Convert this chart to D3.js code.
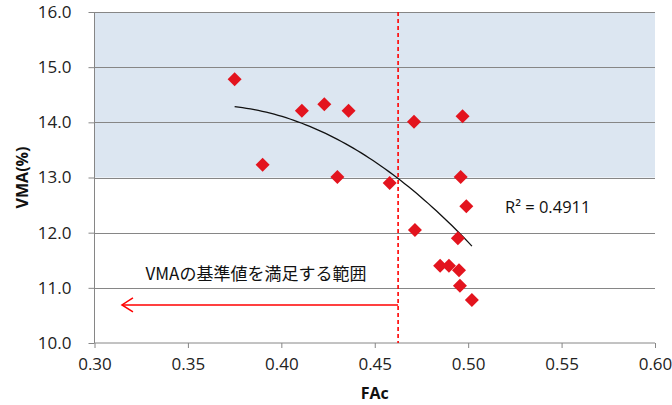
<!DOCTYPE html>
<html><head><meta charset="utf-8">
<script src="https://cdn.jsdelivr.net/npm/d3@7"></script>
<style>
html,body{margin:0;padding:0;background:#fff;}
text{font-family:"Open Sans","Noto Sans",sans-serif;}
</style></head>
<body>
<svg id="chart" width="672" height="405"></svg>
<script>
const fac = [0.375, 0.390, 0.411, 0.423, 0.436, 0.430, 0.458, 0.471, 0.497, 0.496, 0.499, 0.4715, 0.4945, 0.485, 0.4897, 0.4951, 0.4956, 0.502];
const vma = [14.78, 13.23, 14.21, 14.33, 14.21, 13.01, 12.90, 14.01, 14.11, 13.01, 12.48, 12.05, 11.90, 11.40, 11.40, 11.32, 11.04, 10.78];
const xTicks = [0.30, 0.35, 0.40, 0.45, 0.50, 0.55, 0.60];
const yTicks = [10, 11, 12, 13, 14, 15, 16];
const shadeRange = [13, 16];
const facLimit = 0.4625;
const arrowFrom = 0.4625, arrowTo = 0.3147, arrowY = 10.69;
const rangeLabel = "VMAの基準値を満足する範囲";
const r2Label = "R² = 0.4911";
const xTitle = "FAc", yTitle = "VMA(%)";

const svg = d3.select("#chart");
const L = 94.5, R = 655, T = 12, B = 343;
const x = d3.scaleLinear().domain([0.30, 0.60]).range([L, R]);
const y = d3.scaleLinear().domain([10, 16]).range([B, T]);
const grid = "#868686";

// shaded region
svg.append("rect").attr("x", L).attr("y", y(shadeRange[1]))
  .attr("width", R - L).attr("height", y(shadeRange[0]) - y(shadeRange[1]))
  .attr("fill", "#DCE6F1");

// gridlines
svg.append("g").selectAll("line").data(yTicks.filter(v => v > 10)).join("line")
  .attr("x1", L).attr("x2", R).attr("y1", d => Math.round(y(d)) + 0.5).attr("y2", d => Math.round(y(d)) + 0.5)
  .attr("stroke", grid).attr("stroke-width", 1);

// axes
const yAxis = d3.axisLeft(y).tickValues(yTicks).tickFormat(d3.format(".1f")).tickSize(6).tickPadding(17);
const gy = svg.append("g").attr("transform", `translate(${L},0)`).call(yAxis);
const xAxis = d3.axisBottom(x).tickValues(xTicks).tickFormat(d3.format(".2f")).tickSize(5).tickPadding(10);
const gx = svg.append("g").attr("transform", `translate(0,${B})`).call(xAxis);
[gx, gy].forEach(g => {
  g.selectAll("path,line").attr("stroke", grid);
  g.select("path.domain").attr("stroke-width", 1);
  g.selectAll("text").attr("fill", "#222").style("font-size", "17px");
});
gy.select("path.domain").attr("d", `M0,${T}V${B}`);
gx.select("path.domain").attr("d", `M${L},0H${R}`);

// axis titles
svg.append("text").attr("x", x(0.45)).attr("y", 399).attr("text-anchor", "middle")
  .style("font-size", "16px").style("font-weight", "bold").attr("fill", "#111").text(xTitle);
svg.append("text").attr("transform", `translate(28,${(T + B) / 2}) rotate(-90)`).attr("text-anchor", "middle")
  .style("font-size", "16px").style("font-weight", "bold").attr("fill", "#111").text(yTitle);

// quadratic trendline (least squares)
function quadFit(xs, ys) {
  const n = xs.length;
  let S = [0,0,0,0,0], T2 = [0,0,0];
  for (let i = 0; i < n; i++) {
    for (let k = 0; k < 5; k++) S[k] += Math.pow(xs[i], k);
    for (let k = 0; k < 3; k++) T2[k] += ys[i] * Math.pow(xs[i], k);
  }
  const A = [[S[0],S[1],S[2],T2[0]],[S[1],S[2],S[3],T2[1]],[S[2],S[3],S[4],T2[2]]];
  for (let i = 0; i < 3; i++) {
    for (let j = i + 1; j < 3; j++) {
      const f = A[j][i] / A[i][i];
      for (let k = i; k < 4; k++) A[j][k] -= f * A[i][k];
    }
  }
  const c = [0,0,0];
  for (let i = 2; i >= 0; i--) {
    let s = A[i][3];
    for (let k = i + 1; k < 3; k++) s -= A[i][k] * c[k];
    c[i] = s / A[i][i];
  }
  return c;
}
const coef = quadFit(fac, vma);
const [xmin, xmax] = d3.extent(fac);
const curve = d3.range(0, 61).map(i => {
  const xv = xmin + (xmax - xmin) * i / 60;
  return [xv, coef[0] + coef[1] * xv + coef[2] * xv * xv];
});
svg.append("path").datum(curve)
  .attr("d", d3.line().x(d => x(d[0])).y(d => y(d[1])))
  .attr("fill", "none").attr("stroke", "#111").attr("stroke-width", 1.3);

// dashed limit line
svg.append("line").attr("x1", x(facLimit)).attr("x2", x(facLimit)).attr("y1", T).attr("y2", B)
  .attr("stroke", "#FF0000").attr("stroke-width", 1.6).attr("stroke-dasharray", "4,3");

// arrow
const ay = y(arrowY);
svg.append("line").attr("x1", x(arrowFrom)).attr("x2", x(arrowTo)).attr("y1", ay).attr("y2", ay)
  .attr("stroke", "#FF0000").attr("stroke-width", 1.5);
svg.append("path").attr("d", `M${x(arrowTo) + 11},${ay - 7}L${x(arrowTo)},${ay}L${x(arrowTo) + 11},${ay + 7}`)
  .attr("fill", "none").attr("stroke", "#FF0000").attr("stroke-width", 1.5);

svg.append("text").attr("x", 256).attr("y", 280).attr("text-anchor", "middle")
  .style("font-family", "'Noto Sans CJK JP', sans-serif").style("font-size", "17px").attr("fill", "#111").text(rangeLabel);

// points
const sym = d3.symbol().type(d3.symbolSquare).size(98);
svg.append("g").selectAll("path").data(fac.map((f, i) => [f, vma[i]])).join("path")
  .attr("transform", d => `translate(${x(d[0])},${y(d[1])}) rotate(45)`)
  .attr("d", sym).attr("fill", "#E3141E");

// R2 label
svg.append("text").attr("x", 505).attr("y", 213).style("font-size", "16.5px").attr("fill", "#111").text(r2Label);
</script>
</body></html>
